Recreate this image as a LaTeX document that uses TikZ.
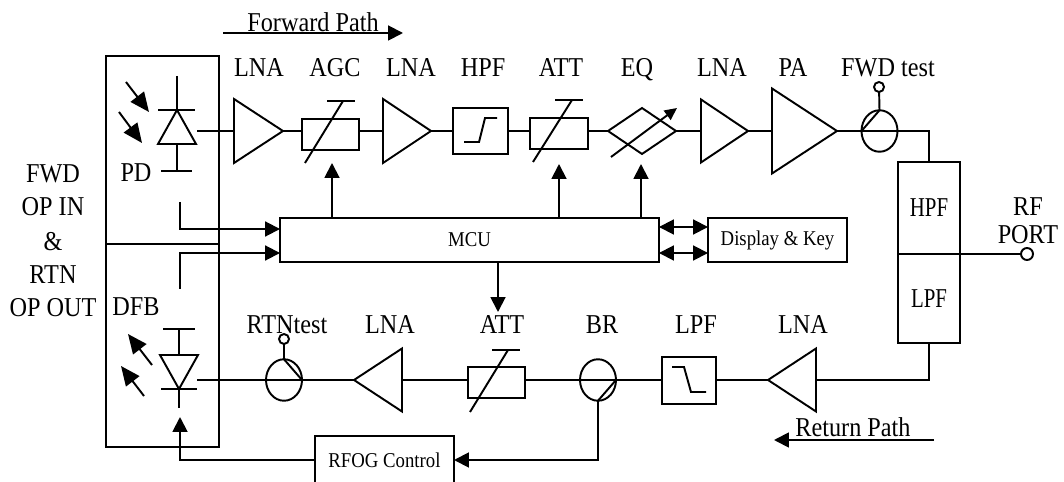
\documentclass[tikz,border=0pt]{standalone}
\usepackage{fontspec}
\setmainfont[FakeStretch=0.89]{Liberation Serif}
\usetikzlibrary{arrows.meta,shapes.geometric}
\tikzset{
  >={Triangle[length=8.5pt,width=8.5pt]},
  light/.style={-{Triangle[length=11pt,width=9.5pt]}},
  lab/.style={font=\fontsize{15.5}{17}\selectfont,inner sep=0pt},
  small/.style={font=\fontsize{12}{14}\selectfont,inner sep=0pt},
  box/.style={draw,rectangle,inner sep=0pt,outer sep=0pt},
  amp/.style={draw,isosceles triangle,isosceles triangle stretches,inner sep=0pt,outer sep=0pt,shape border rotate=#1},
  coupler/.style={draw,ellipse,inner sep=0pt,outer sep=0pt,minimum width=.72cm,minimum height=.83cm},
  tap/.style={draw,circle,inner sep=0pt,outer sep=0pt,minimum size=.2cm}
}
\newcommand{\narrowtext}[1]{\scalebox{.86}[1]{#1}}
\begin{document}
\begin{tikzpicture}[x=.02cm,y=-.02cm,line width=1.1pt]
    \useasboundingbox (0,0) rectangle (1064,482);
    % labels
    \node [lab] (lfwdpath) at (313,22) {Forward Path};
    \node [lab] (lretpath) at (853,427) {Return Path};
    \node [lab] (lfwd) at (53,174) {FWD};
    \node [lab] (lopin) at (53,207) {OP IN};
    \node [lab] (land) at (53,242) {\&};
    \node [lab] (lrtn) at (53,275) {RTN};
    \node [lab] (lopout) at (53,308) {OP OUT};
    \node [lab] (lpd) at (136,173) {PD};
    \node [lab] (ldfb) at (136,307) {DFB};
    \node [lab] at (259,68) {LNA};
    \node [lab] at (335,68) {AGC};
    \node [lab] at (411,68) {LNA};
    \node [lab] at (483,68) {HPF};
    \node [lab] at (561,68) {ATT};
    \node [lab] at (637,70) {EQ};
    \node [lab] at (722,68) {LNA};
    \node [lab] at (793,68) {PA};
    \node [lab] at (888,68) {FWD test};
    \node [lab] at (287,325) {RTNtest};
    \node [lab] at (390,325) {LNA};
    \node [lab] at (502,325) {ATT};
    \node [lab] at (602,325) {BR};
    \node [lab] at (696,325) {LPF};
    \node [lab] at (803,325) {LNA};
    \node [lab] at (1028,207) {RF};
    \node [lab] at (1028,235) {PORT};
    % forward path
    \node [amp=0,anchor=apex,minimum width=1.28cm,minimum height=.98cm] (lnaa) at (283,131) {};
    \node [box,minimum width=1.14cm,minimum height=.62cm] (agc) at (330.5,134.5) {};
    \node [amp=0,anchor=apex,minimum width=1.28cm,minimum height=.96cm] (lnab) at (431,131) {};
    \node [box,minimum width=1.1cm,minimum height=.92cm] (hpf) at (480.5,131) {};
    \node [box,minimum width=1.16cm,minimum height=.62cm] (att) at (559,133.5) {};
    \node [draw,diamond,aspect=1.48,inner sep=0pt,outer sep=0pt,minimum width=1.36cm,minimum height=.92cm] (eq) at (642,131) {};
    \node [amp=0,anchor=apex,minimum width=1.26cm,minimum height=.94cm] (lnac) at (748,131) {};
    \node [amp=0,anchor=apex,minimum width=1.7cm,minimum height=1.3cm] (pa) at (837,131) {};
    \node [coupler] (fwdtest) at (879.5,131) {};
    \node [tap] (fwdtap) at (879,87) {};
    % diplexer
    \node [box,lab,minimum width=1.24cm,minimum height=1.84cm] (dhpf) at (929,208) {\narrowtext{HPF}};
    \node [box,lab,minimum width=1.24cm,minimum height=1.78cm] (dlpf) at (929,298.5) {\narrowtext{LPF}};
    \node [tap,minimum size=.24cm] (rfport) at (1027,254) {};
    % return path
    \node [amp=180,anchor=apex,minimum width=1.26cm,minimum height=.96cm] (lnad) at (768,380) {};
    \node [box,minimum width=1.08cm,minimum height=.94cm] (lpf) at (689,380.5) {};
    \node [coupler] (br) at (598,380) {};
    \node [box,minimum width=1.14cm,minimum height=.62cm] (attb) at (496.5,382.5) {};
    \node [amp=180,anchor=apex,minimum width=1.26cm,minimum height=.96cm] (lnae) at (354,380) {};
    \node [coupler] (rtntest) at (284,380) {};
    \node [tap] (rtntap) at (284,339) {};
    % control boxes
    \node [box,small,minimum width=7.58cm,minimum height=.88cm] (mcu) at (469.5,240) {MCU};
    \node [box,small,minimum width=2.78cm,minimum height=.88cm] (disp) at (777.5,240) {Display \& Key};
    \node [box,small,minimum width=2.78cm,minimum height=.96cm] (rfog) at (384.5,460) {RFOG Control};
    \node [box,minimum width=2.26cm,minimum height=3.76cm] (pdbox) at (162.5,150) {};
    \node [box,minimum width=2.26cm,minimum height=4.06cm] (dfbbox) at (162.5,345.5) {};
    % PD diode
    \node [draw,isosceles triangle,isosceles triangle stretches,inner sep=0pt,outer sep=0pt,shape border rotate=90,anchor=apex,minimum width=.76cm,minimum height=.68cm] (pdd) at (177,110) {};
    \coordinate (pdtop) at (177,76);
    \coordinate (pdbar) at (177,171);
    \coordinate (pdout) at (197,131);
    \draw (pdtop) -- (pdd.apex);
    \draw (158,110) -- (195,110);
    \draw (pdd.south) -- (pdbar);
    \draw (161,171) -- (192,171);
    % DFB diode
    \node [draw,isosceles triangle,isosceles triangle stretches,inner sep=0pt,outer sep=0pt,shape border rotate=-90,anchor=apex,minimum width=.76cm,minimum height=.68cm] (dfbd) at (179,389) {};
    \coordinate (dfbtop) at (179,329);
    \coordinate (dfbbot) at (179,408);
    \coordinate (dfbout) at (197,380);
    \draw (dfbtop) -- (dfbd.north);
    \draw (163,329) -- (195,329);
    \draw (dfbd.apex) -- (dfbbot);
    \draw (161,389) -- (197,389);
    % light arrows
    \draw [light] (126,82) -- (149,112);
    \draw [light] (119,112) -- (142,143);
    \draw [light] (152,365) -- (128,334);
    \draw [light] (144,396) -- (121,366);
    \draw [->] (223,33) -- (403,33);
    \draw [->] (934,440) -- (774,440);
    % signal line
    \draw (pdout) -- (lnaa.west |- pdout);
    \draw (lnaa.apex) -- (agc.west |- lnaa.apex);
    \draw (agc.east |- lnaa.apex) -- (lnab.west |- lnab.apex);
    \draw (lnab.apex) -- (hpf.west);
    \draw (hpf.east) -- (att.west |- hpf.east);
    \draw (att.east |- hpf.east) -- (eq.west);
    \draw (eq.east) -- (lnac.west |- lnac.apex);
    \draw (lnac.apex) -- (pa.west |- pa.apex);
    \draw (pa.apex) -- (fwdtest.west) -- (fwdtest.east) -| (dhpf.north);
    \draw (fwdtap) -- (fwdtest.north);
    \draw (fwdtest.west) -- (fwdtest.north);
    \draw (dhpf.south east) -- (rfport.west);
    \draw (dlpf.south) |- (lnad.east |- 0,380);
    \draw (lnad.apex) -- (lpf.east |- lnad.apex);
    \draw (lpf.west |- br.east) -- (br.east) -- (br.west) -- (attb.east |- br.west);
    \draw (attb.west |- lnae.east) -- (lnae.east);
    \draw (lnae.apex) -- (rtntest.east) -- (rtntest.west) -- (dfbout);
    \draw (rtntap) -- (rtntest.north);
    \draw (rtntest.north) -- (rtntest.east);
    \draw (br.east) -- (br.south);
    % variable attenuators
    \draw (305,163) -- (343,101);
    \draw (327,101) -- (355,101);
    \draw (533,162) -- (572,100);
    \draw (555,100) -- (583,100);
    \draw (470,412) -- (508,350);
    \draw (492,350) -- (520,350);
    \draw [-{Triangle[length=7pt,width=6.5pt]}] (611,157) -- (677,108);
    % filter marks
    \draw (464,142) -- (479,142) -- (485,118) -- (497,118);
    \draw (672,367) -- (684,367) -- (691,392) -- (706,392);
    % MCU control
    \coordinate (agcin) at (332,163);
    \coordinate (attin) at (559,164);
    \coordinate (eqin) at (641,164);
    \coordinate (attbin) at (498,312);
    \coordinate (pdmon) at (180,202);
    \coordinate (dfbmon) at (180,289);
    \coordinate (rfogin) at (180,417);
    \draw [->] (agcin |- mcu.north) -- (agcin);
    \draw [->] (attin |- mcu.north) -- (attin);
    \draw [->] (eqin |- mcu.north) -- (eqin);
    \draw [->] (attbin |- mcu.south) -- (attbin);
    \draw [->] (pdmon) |- (mcu.west |- 0,229);
    \draw [->] (dfbmon) |- (mcu.west |- 0,253);
    \draw [<->] (mcu.east |- 0,227) -- (disp.west |- 0,227);
    \draw [<->] (mcu.east |- 0,253) -- (disp.west |- 0,253);
    \draw [->] (br.south) |- (rfog.east);
    \draw [->] (rfog.west) -| (rfogin);
\end{tikzpicture}
\end{document}
